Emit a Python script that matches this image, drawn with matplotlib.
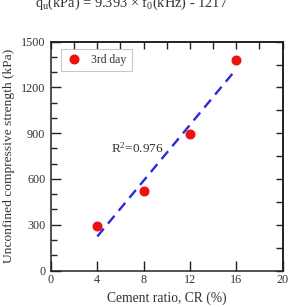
import matplotlib
matplotlib.use("Agg")
import matplotlib.pyplot as plt
import numpy as np
from matplotlib.ticker import MultipleLocator

plt.rcParams['font.family'] = ['Liberation Serif', 'DejaVu Serif']
plt.rcParams['mathtext.fontset'] = 'custom'
plt.rcParams['mathtext.rm'] = 'Liberation Serif'
plt.rcParams['mathtext.it'] = 'Liberation Serif:italic'

cement_ratio = [4, 8, 12, 16]
ucs_3rd_day = [290, 518, 895, 1383]
series_label = "3rd day"
r2_text = "R$^2$=0.976"
title_text = r"q$_\mathrm{u}$(kPa) = 9.393 × f$_\mathrm{0}$(kHz) - 1217"
xlabel = "Cement ratio, CR (%)"
ylabel = "Unconfined compressive strength (kPa)"

fig = plt.figure(figsize=(2.98, 3.07), dpi=100)
ax = fig.add_axes([51/298, 1-270.5/307, 231.5/298, 228.8/307])

ax.plot(cement_ratio, ucs_3rd_day, 'o', color='#ee1111', markersize=6.2,
        label=series_label, zorder=3)
slope, intercept = np.polyfit(cement_ratio, ucs_3rd_day, 1)
xs = np.array([cement_ratio[0], cement_ratio[-1]])
ax.plot(xs, slope*xs + intercept, color='#2a2ad8', lw=1.7,
        dashes=(4.3, 2.8), zorder=2)

ax.set_xlim(0, 20)
ax.set_ylim(0, 1500)
ax.xaxis.set_major_locator(MultipleLocator(4))
ax.yaxis.set_major_locator(MultipleLocator(300))
ax.yaxis.set_minor_locator(MultipleLocator(100))
ax.tick_params(axis='both', which='major', direction='in', length=7,
               width=1.0, labelsize=8.7, colors='#222222', labelcolor='#333333')
ax.tick_params(axis='y', which='minor', direction='in', length=4.5, width=1.0,
               colors='#222222')
ax.tick_params(top=False, right=False)
ax.tick_params(axis='x', pad=2.5)
ax.tick_params(axis='y', pad=4)

# top ticks every 2, right ticks every 150
axt = ax.secondary_xaxis('top')
axt.xaxis.set_major_locator(MultipleLocator(2))
axt.tick_params(direction='in', length=5, width=1.0, labelsize=0,
                labeltop=False, colors='#222222')
axr = ax.secondary_yaxis('right')
axr.yaxis.set_major_locator(MultipleLocator(150))
axr.tick_params(direction='in', length=5, width=1.0, labelright=False,
                colors='#222222')
axr.yaxis.set_minor_locator(plt.NullLocator())

for sp in ax.spines.values():
    sp.set_linewidth(1.1)
    sp.set_color('#222222')
axt.spines['top'].set_linewidth(1.1)
axr.spines['right'].set_linewidth(1.1)

ax.set_xlabel(xlabel, fontsize=9.8, color='#333333', labelpad=4)
ax.set_ylabel(ylabel, fontsize=9.7, color='#333333', labelpad=4)

ax.text(7.5, 800, r2_text, fontsize=9.5, color='#333333', ha='center', va='center')

leg = ax.legend(loc='upper left', fontsize=8.4, frameon=True, fancybox=False,
                edgecolor='#bbbbbb', handletextpad=0.9, borderpad=0.45,
                handlelength=1.2, bbox_to_anchor=(0.02, 0.995))
leg.get_frame().set_linewidth(0.8)
for t in leg.get_texts():
    t.set_color('#333333')

fig.text(0.44, 1-7/307, title_text, fontsize=10.4, color='#333333',
         ha='center', va='baseline')

fig.savefig('out.png', dpi=100)
